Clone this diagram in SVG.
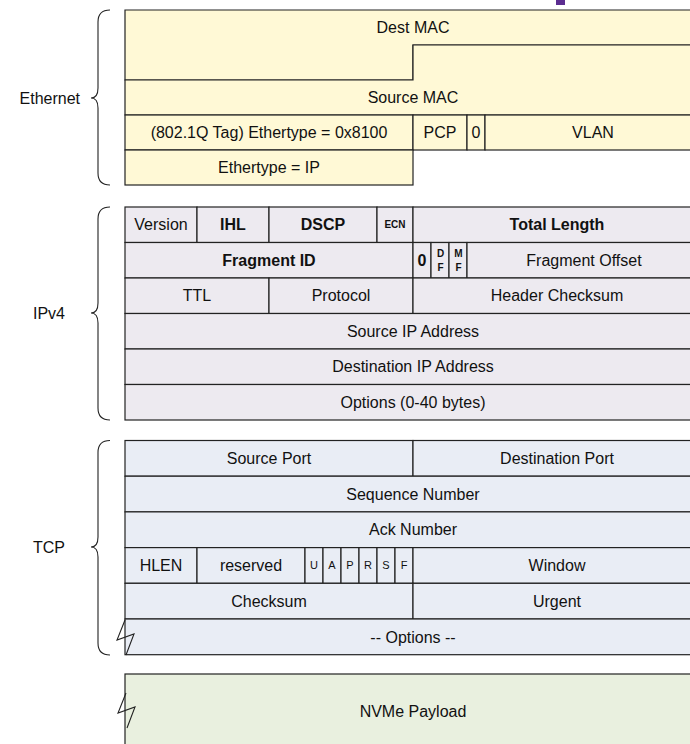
<svg xmlns="http://www.w3.org/2000/svg" width="690" height="744" viewBox="0 0 690 744">
<style>
.eth{fill:#FFF9D6;stroke:#222;stroke-width:1.2}
.ip{fill:#EDEAF0;stroke:#222;stroke-width:1.2}
.tcp{fill:#E9EDF5;stroke:#222;stroke-width:1.2}
.nvme{fill:#E9F0DF;stroke:#222;stroke-width:1.2}
text{font-family:"Liberation Sans",Arial,sans-serif;font-size:16px;fill:#111;text-anchor:middle}
.b{font-weight:bold}
.s{font-size:10px;font-weight:bold}
.f{font-size:11px}
.lbl{text-anchor:end}
.brace{fill:none;stroke:#222;stroke-width:1.1}
.zig{fill:none;stroke:#222;stroke-width:1.1}
</style>
<rect x="556" y="0" width="9" height="5" fill="#5C2D91"/>

<g id="connectors">
<path class="brace" d="M110,10 Q98,10 98,22 L98,88 Q98,98 91,98 Q98,98 98,108 L98,173 Q98,185 110,185"/>
<path class="brace" d="M110,207 Q98,207 98,219 L98,303 Q98,313 91,313 Q98,313 98,323 L98,408 Q98,420 110,420"/>
<path class="brace" d="M110,440.5 Q98,440.5 98,452.5 L98,537 Q98,547 91,547 Q98,547 98,557 L98,643 Q98,655 110,655"/>
</g>

<g id="label-ethernet"><text class="lbl" x="80" y="103.7">Ethernet</text></g>
<g id="label-ipv4"><text class="lbl" x="65" y="318.7">IPv4</text></g>
<g id="label-tcp"><text class="lbl" x="65" y="552.7">TCP</text></g>

<g id="eth-dest-mac"><path class="eth" d="M125,10 H701 V45 H413 V80 H125 Z"/><text x="413" y="33.2">Dest MAC</text></g>
<g id="eth-source-mac"><path class="eth" d="M413,45 H701 V115 H125 V80 H413 Z"/><text x="413" y="103.2">Source MAC</text></g>
<g id="eth-8021q"><rect class="eth" x="125" y="115" width="288" height="35"/><text x="269" y="138.2">(802.1Q Tag) Ethertype = 0x8100</text></g>
<g id="eth-pcp"><rect class="eth" x="413" y="115" width="54" height="35"/><text x="440" y="138.2">PCP</text></g>
<g id="eth-dei"><rect class="eth" x="467" y="115" width="18" height="35"/><text x="476" y="138.2">0</text></g>
<g id="eth-vlan"><rect class="eth" x="485" y="115" width="216" height="35"/><text x="593" y="138.2">VLAN</text></g>
<g id="eth-ethertype"><rect class="eth" x="125" y="150" width="288" height="35"/><text x="269" y="173.2">Ethertype = IP</text></g>

<g id="ip-version"><rect class="ip" x="125" y="207" width="72" height="35.5"/><text x="161" y="230.4">Version</text></g>
<g id="ip-ihl"><rect class="ip" x="197" y="207" width="72" height="35.5"/><text class="b" x="233" y="230.4">IHL</text></g>
<g id="ip-dscp"><rect class="ip" x="269" y="207" width="108" height="35.5"/><text class="b" x="323" y="230.4">DSCP</text></g>
<g id="ip-ecn"><rect class="ip" x="377" y="207" width="36" height="35.5"/><text class="s" x="395" y="228.4">ECN</text></g>
<g id="ip-total-length"><rect class="ip" x="413" y="207" width="288" height="35.5"/><text class="b" x="557" y="230.4">Total Length</text></g>
<g id="ip-fragment-id"><rect class="ip" x="125" y="242.5" width="288" height="35.5"/><text class="b" x="269" y="265.9">Fragment ID</text></g>
<g id="ip-flag0"><rect class="ip" x="413" y="242.5" width="18" height="35.5"/><text class="b" x="422" y="265.9">0</text></g>
<g id="ip-df"><rect class="ip" x="431" y="242.5" width="18" height="35.5"/><text class="s" x="440.5" y="256.5">D</text><text class="s" x="440.5" y="270.5">F</text></g>
<g id="ip-mf"><rect class="ip" x="449" y="242.5" width="18" height="35.5"/><text class="s" x="458.5" y="256.5">M</text><text class="s" x="458.5" y="270.5">F</text></g>
<g id="ip-fragment-offset"><rect class="ip" x="467" y="242.5" width="234" height="35.5"/><text x="584" y="265.9">Fragment Offset</text></g>
<g id="ip-ttl"><rect class="ip" x="125" y="278" width="144" height="35.5"/><text x="197" y="301.4">TTL</text></g>
<g id="ip-protocol"><rect class="ip" x="269" y="278" width="144" height="35.5"/><text x="341" y="301.4">Protocol</text></g>
<g id="ip-header-checksum"><rect class="ip" x="413" y="278" width="288" height="35.5"/><text x="557" y="301.4">Header Checksum</text></g>
<g id="ip-source"><rect class="ip" x="125" y="313.5" width="576" height="35.5"/><text x="413" y="336.9">Source IP Address</text></g>
<g id="ip-destination"><rect class="ip" x="125" y="349" width="576" height="35.5"/><text x="413" y="372.4">Destination IP Address</text></g>
<g id="ip-options"><rect class="ip" x="125" y="384.5" width="576" height="35.5"/><text x="413" y="407.9">Options (0-40 bytes)</text></g>

<g id="tcp-source-port"><rect class="tcp" x="125" y="440.5" width="288" height="35.7"/><text x="269" y="464">Source Port</text></g>
<g id="tcp-dest-port"><rect class="tcp" x="413" y="440.5" width="288" height="35.7"/><text x="557" y="464">Destination Port</text></g>
<g id="tcp-seq"><rect class="tcp" x="125" y="476.2" width="576" height="35.7"/><text x="413" y="499.7">Sequence Number</text></g>
<g id="tcp-ack"><rect class="tcp" x="125" y="511.9" width="576" height="35.7"/><text x="413" y="535.4">Ack Number</text></g>
<g id="tcp-hlen"><rect class="tcp" x="125" y="547.6" width="72" height="35.7"/><text x="161" y="571.1">HLEN</text></g>
<g id="tcp-reserved"><rect class="tcp" x="197" y="547.6" width="108" height="35.7"/><text x="251" y="571.1">reserved</text></g>
<g id="tcp-u"><rect class="tcp" x="305" y="547.6" width="18" height="35.7"/><text class="f" x="314" y="569.4">U</text></g>
<g id="tcp-a"><rect class="tcp" x="323" y="547.6" width="18" height="35.7"/><text class="f" x="332" y="569.4">A</text></g>
<g id="tcp-p"><rect class="tcp" x="341" y="547.6" width="18" height="35.7"/><text class="f" x="350" y="569.4">P</text></g>
<g id="tcp-r"><rect class="tcp" x="359" y="547.6" width="18" height="35.7"/><text class="f" x="368" y="569.4">R</text></g>
<g id="tcp-s"><rect class="tcp" x="377" y="547.6" width="18" height="35.7"/><text class="f" x="386" y="569.4">S</text></g>
<g id="tcp-f"><rect class="tcp" x="395" y="547.6" width="18" height="35.7"/><text class="f" x="404" y="569.4">F</text></g>
<g id="tcp-window"><rect class="tcp" x="413" y="547.6" width="288" height="35.7"/><text x="557" y="571.1">Window</text></g>
<g id="tcp-checksum"><rect class="tcp" x="125" y="583.3" width="288" height="35.7"/><text x="269" y="606.8">Checksum</text></g>
<g id="tcp-urgent"><rect class="tcp" x="413" y="583.3" width="288" height="35.7"/><text x="557" y="606.8">Urgent</text></g>
<g id="tcp-options"><rect class="tcp" x="125" y="619" width="576" height="35.7"/><path class="zig" d="M125,620 L117,640 L134,634 L126,655"/><text x="413" y="642.5">-- Options --</text></g>

<g id="nvme-payload"><rect class="nvme" x="125" y="674" width="576" height="90"/><path class="zig" d="M126,693 L118,713 L135,707 L127,728"/><text x="413" y="716.7">NVMe Payload</text></g>
</svg>
